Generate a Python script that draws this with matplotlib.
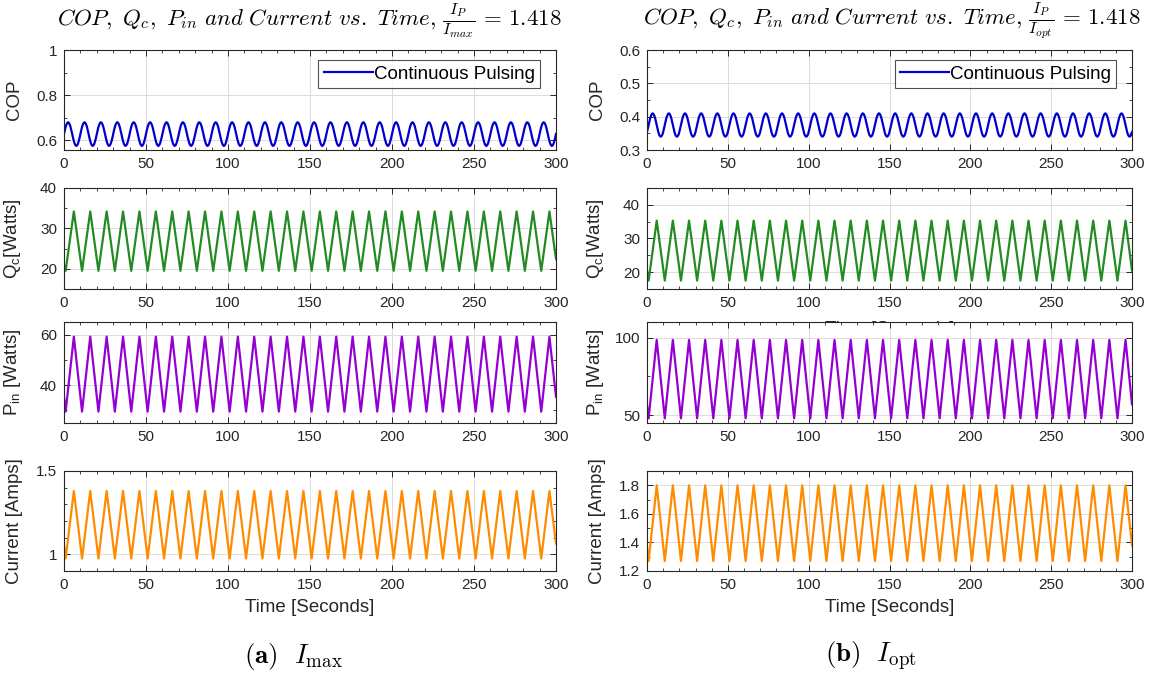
import numpy as np
import matplotlib
matplotlib.use('Agg')
import matplotlib.pyplot as plt
from matplotlib.ticker import MultipleLocator, FormatStrFormatter

plt.rcParams['font.family'] = ['Liberation Sans', 'DejaVu Sans']
plt.rcParams['mathtext.fontset'] = 'custom'
plt.rcParams['mathtext.rm'] = 'Liberation Sans'
plt.rcParams['mathtext.it'] = 'Liberation Sans:italic'
plt.rcParams['mathtext.bf'] = 'Liberation Sans:bold'

# --- data ---
# corner times of the triangular waveforms (troughs at 1, 11, ... peaks at 6, 16, ...)
t_vert = [0] + list(range(1, 297, 5)) + [300]

# (a) I_max
qc_a = [21.0] + [19.5, 34.2] * 30 + [22.4]
pin_a = [35.4] + [29.5, 59.2] * 30 + [35.4]
cur_a = [1.056] + [0.975, 1.38] * 30 + [1.065]
# one 10 s period of COP, every 0.5 s
cop_a_period = [0.628, 0.644, 0.659, 0.670, 0.677, 0.680, 0.677, 0.670, 0.659, 0.644,
                0.628, 0.611, 0.597, 0.585, 0.578, 0.575, 0.578, 0.585, 0.597, 0.611]

# (b) I_opt
qc_b = [20.5] + [17.5, 35.3] * 30 + [20.5]
pin_b = [56.5] + [48.0, 98.5] * 30 + [57.0]
cur_b = [1.37] + [1.27, 1.80] * 30 + [1.38]
cop_b_period = [0.354, 0.364, 0.375, 0.386, 0.396, 0.403, 0.408, 0.410, 0.408, 0.403,
                0.396, 0.386, 0.375, 0.364, 0.354, 0.346, 0.342, 0.340, 0.342, 0.346]

t_cop = np.arange(0, 300.01, 0.5)
cop_a = cop_a_period * 30 + [cop_a_period[0]]
cop_b = cop_b_period * 30 + [cop_b_period[0]]

ylabels = ['COP', 'Q$_\\mathrm{c}$[Watts]', 'P$_\\mathrm{in}$ [Watts]', 'Current [Amps]']
colors = ['#0000CD', '#228B22', '#9400D3', '#FF8C00']

W, H = 1155, 678
fig = plt.figure(figsize=(W / 100, H / 100), dpi=100)

rows = [(50, 150), (188, 289), (322, 423), (471, 571)]
cols = [(64, 556), (647, 1132)]

def add_ax(col, row):
    x0, x1 = cols[col]
    y0, y1 = rows[row]
    return fig.add_axes([x0 / W, 1 - y1 / H, (x1 - x0) / W, (y1 - y0) / H])

settings = {
    0: dict(cop=cop_a, qc=qc_a, pin=pin_a, cur=cur_a,
            ylims=[(0.557, 1.0), (15, 40), (25, 65), (0.9, 1.5)],
            major=[0.2, 10, 20, 0.5], minor=[0.1, 5, 10, 0.1]),
    1: dict(cop=cop_b, qc=qc_b, pin=pin_b, cur=cur_b,
            ylims=[(0.3, 0.6), (15, 45), (45, 110), (1.2, 1.9)],
            major=[0.1, 10, 50, 0.2], minor=[0.05, 5, 25, 0.1]),
}

axes = {}
for c in range(2):
    s = settings[c]
    for r in range(4):
        ax = add_ax(c, r)
        axes[(c, r)] = ax
        if r == 0:
            ax.plot(t_cop, s['cop'], color=colors[0], lw=1.6, label='Continuous Pulsing')
        else:
            ys = [s['qc'], s['pin'], s['cur']][r - 1]
            ax.plot(t_vert, ys, color=colors[r], lw=1.6)
        ax.set_xlim(0, 300)
        ax.set_ylim(*s['ylims'][r])
        ax.xaxis.set_major_locator(MultipleLocator(50))
        ax.xaxis.set_minor_locator(MultipleLocator(10))
        ax.yaxis.set_major_locator(MultipleLocator(s['major'][r]))
        ax.yaxis.set_minor_locator(MultipleLocator(s['minor'][r]))
        ax.yaxis.set_major_formatter(FormatStrFormatter('%g'))
        ax.grid(True, which='major', color='#dcdcdc', lw=0.7)
        ax.set_axisbelow(True)
        ax.tick_params(which='both', direction='in', top=True, right=True,
                       colors='#262626', labelsize=11, pad=5)
        ax.tick_params(which='major', length=4, width=0.7)
        ax.tick_params(which='minor', length=2.5, width=0.6)
        for sp in ax.spines.values():
            sp.set_color('#262626')
            sp.set_linewidth(0.8)
        ax.set_ylabel(ylabels[r], fontsize=13.5, color='#262626')
        ax.yaxis.set_label_coords(-0.084, 0.5)
        if r == 0:
            leg = ax.legend(loc='upper right', bbox_to_anchor=(0.968, 0.9), fontsize=13.5,
                            frameon=True, fancybox=False, handlelength=2.6,
                            borderpad=0.3, handletextpad=0.05, borderaxespad=0)
            leg.get_frame().set_edgecolor('#262626')
            leg.get_frame().set_linewidth(0.8)
        if r == 3:
            ax.set_xlabel('Time [Seconds]', fontsize=13.5, color='#262626', labelpad=5)

# hidden-behind xlabel fragment on right column, second row
ax_r2 = axes[(1, 1)]
ax_r2.text(890 / W, 1 - 329 / H, 'Time [Seconds]', transform=fig.transFigure,
           ha='center', va='center', fontsize=13.5, color='#262626', clip_on=False)

titles = [r'$COP,\ Q_c,\ P_{in}\ and\ Current\ vs.\ Time,\, \frac{I_P}{I_{max}}\, =\, 1.418$',
          r'$COP,\ Q_c,\ P_{in}\ and\ Current\ vs.\ Time,\, \frac{I_P}{I_{opt}}\, =\, 1.418$']
title_x = [309, 892]
for c in range(2):
    fig.text(title_x[c] / W, 1 - 21 / H, titles[c], ha='center', va='center',
             fontsize=16.5, math_fontfamily='cm')

captions = [r'$\mathbf{(a)}\ \ I_{\mathrm{max}}$', r'$\mathbf{(b)}\ \ I_{\mathrm{opt}}$']
cap_x = [293, 871]
for c in range(2):
    fig.text(cap_x[c] / W, 1 - 656 / H, captions[c], ha='center', va='center',
             fontsize=19.5, math_fontfamily='cm')

fig.savefig('out.png', dpi=100)
